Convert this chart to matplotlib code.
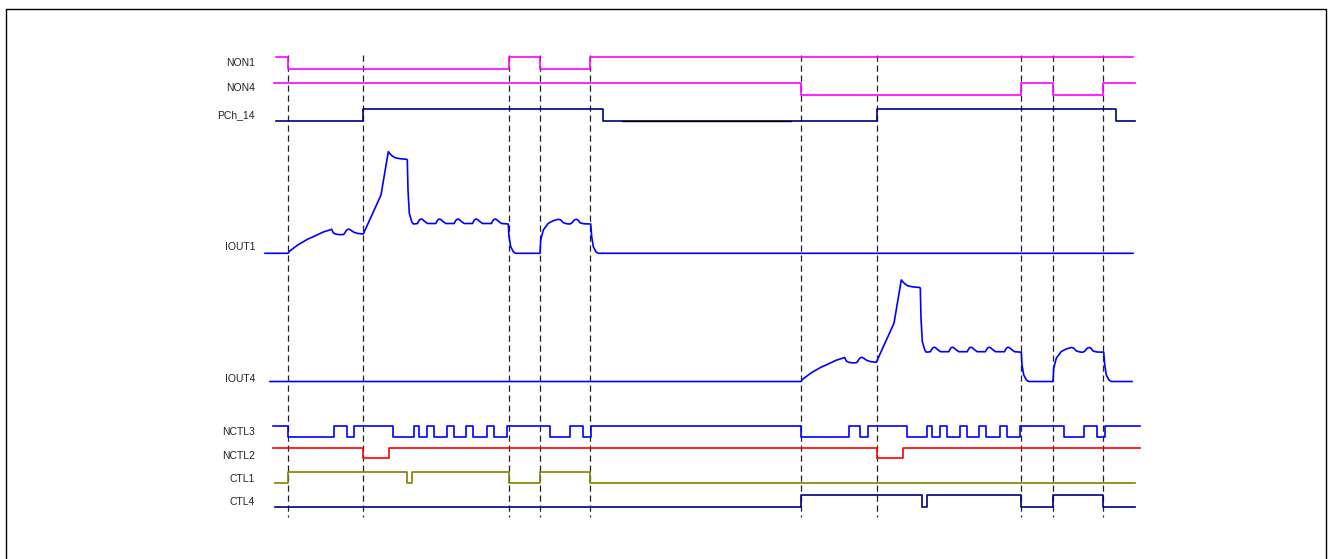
import numpy as np
import matplotlib
matplotlib.use("Agg")
import matplotlib.pyplot as plt

plt.rcParams['font.family'] = ['Liberation Sans', 'DejaVu Sans']

# marker times (dashed lines), in screen units
events = [288, 363, 509, 540, 590, 801, 877, 1021, 1053, 1103]

# channel labels and where they sit
labels = ["NON1", "NON4", "PCh_14", "IOUT1", "IOUT4", "NCTL3", "NCTL2", "CTL1", "CTL4"]
label_y = [63, 88, 115, 247, 379, 432, 456, 479, 502]

# digital channels: edge times + state of each segment (1 = high)
non1_t = [276, 288, 509, 540, 590, 1133]
non1_s = [1, 0, 1, 0, 1]
non4_t = [274, 801, 1021, 1053, 1103, 1135]
non4_s = [1, 0, 1, 0, 1]
pch14_t = [276, 363, 603, 877, 1116, 1135]
pch14_s = [0, 1, 0, 1, 0]
nctl3_t = [273, 288, 334, 347, 354, 393, 414, 419, 427, 434, 447, 454, 466, 473,
           487, 494, 507, 550, 570, 583, 591, 801, 849, 860, 868, 907, 927, 932,
           940, 947, 960, 967, 979, 986, 1000, 1007, 1020, 1064, 1084, 1097, 1105, 1140]
nctl3_s = [1, 0, 1, 0, 1, 0, 1, 0, 1, 0, 1, 0, 1, 0, 1, 0, 1, 0, 1, 0,
           1, 0, 1, 0, 1, 0, 1, 0, 1, 0, 1, 0, 1, 0, 1, 0, 1, 0, 1, 0, 1]
nctl2_t = [273, 363, 389, 877, 903, 1140]
nctl2_s = [1, 0, 1, 0, 1]
ctl1_t = [275, 288, 407, 412, 509, 540, 590, 1135]
ctl1_s = [0, 1, 0, 1, 0, 1, 0]
ctl4_t = [275, 801, 922, 927, 1021, 1053, 1103, 1135]
ctl4_s = [0, 1, 0, 1, 0, 1, 0]

# current pulse shape: time after onset, height above baseline
pulse_dt = [0, 2, 5.3, 10, 15.3, 20, 25.3, 30, 35.3, 40, 43.7,
            45.3, 47.5, 52, 55.5, 57, 58, 59.5, 61, 63, 66, 70, 75.3,
            93, 100.3, 102, 104, 107, 112, 118.7, 119.3, 120, 121.3, 123.7, 125.3,
            129.5, 130.5, 131.5, 133, 134.5, 136.5, 139.5,
            147.8, 148.8, 149.8, 151.3, 152.8, 154.8, 157.8,
            166.2, 167.2, 168.2, 169.7, 171.2, 173.2, 176.2,
            184.5, 185.5, 186.5, 188, 189.5, 191.5, 194.5,
            203.5, 204.5, 205.5, 207, 208.5, 210.5, 213.5,
            220.3, 221, 222.7, 225.3, 227.7, 252,
            252.7, 255.3, 260.3, 265.3, 270.3, 272.5, 275.3, 279, 282,
            284, 285.5, 287, 288.7, 290.3, 292, 296, 302.7,
            303.7, 305.3, 308, 310.3]
pulse_h = [0, 2.5, 5, 8.5, 11.6, 14.3, 16.6, 18.8, 21.3, 22.8, 24,
           20.5, 19.2, 18.6, 18.8, 20.5, 22.5, 23.8, 24.2, 23, 21, 19.8, 19.3,
           58.3, 101.6, 99.5, 97.5, 95.6, 94.6, 94, 93.3, 63.3, 40, 31.6, 29.3,
           29.8, 31.8, 33.4, 34.3, 33.8, 32, 29.8,
           29.8, 31.8, 33.4, 34.3, 33.8, 32, 29.8,
           29.8, 31.8, 33.4, 34.3, 33.8, 32, 29.8,
           29.8, 31.8, 33.4, 34.3, 33.8, 32, 29.8,
           29.8, 31.8, 33.4, 34.3, 33.8, 32, 29.8,
           29.3, 16.6, 6.6, 1.6, 0, 0,
           13.3, 23.3, 30, 32.6, 34, 33.5, 30.6, 29.5, 29.3,
           30.5, 32.5, 33.7, 34, 33, 30.5, 29.5, 29.3,
           16.6, 6.6, 1.4, 0]
iout1_onset, iout1_span = 288, (265, 1133)
iout4_onset, iout4_span = 801, (270, 1132)

levels = {  # (high, low) screen y
    "NON1": (56.5, 68.5), "NON4": (82.5, 94.5), "PCh_14": (108.5, 120.5),
    "NCTL3": (425.5, 436.5), "NCTL2": (447.5, 457.5),
    "CTL1": (471.5, 482.5), "CTL4": (495, 506.5),
}
iout1_base = 253.3
iout4_base = 381.5


def digital(ax, t, s, name, color):
    hi, lo = levels[name]
    ys = [hi if v else lo for v in s]
    ys = ys + [ys[-1]]
    ax.step(t, ys, where="post", color=color, lw=1.2)


def analog(ax, onset, span, base, color):
    xs = [span[0]] + [onset + d for d in pulse_dt] + [span[1]]
    ys = [base] + [base - h for h in pulse_h] + [base]
    ax.plot(xs, ys, color=color, lw=1.2)


fig = plt.figure(figsize=(13.30, 5.59), dpi=100)
ax = fig.add_axes([0, 0, 1, 1])
ax.set_xlim(0, 1330)
ax.set_ylim(559, 0)
ax.axis("off")

# frame
ax.plot([5.5, 5.5, 1326, 1326], [560, 8.5, 8.5, 560], color="k", lw=1.0)

ax.vlines(events, 55, 517, colors="#222222", linestyles=(0, (5, 3)), lw=0.9)

digital(ax, non1_t, non1_s, "NON1", "#ff00ff")
digital(ax, non4_t, non4_s, "NON4", "#ff00ff")
digital(ax, pch14_t, pch14_s, "PCh_14", "#000080")
ax.plot([622, 791], [levels["PCh_14"][1]] * 2, color="k", lw=1.0)
analog(ax, iout1_onset, iout1_span, iout1_base, "#0000ff")
analog(ax, iout4_onset, iout4_span, iout4_base, "#0000ff")
digital(ax, nctl3_t, nctl3_s, "NCTL3", "#0000ff")
digital(ax, nctl2_t, nctl2_s, "NCTL2", "#ff0000")
digital(ax, ctl1_t, ctl1_s, "CTL1", "#808000")
digital(ax, ctl4_t, ctl4_s, "CTL4", "#000080")

for lab, y in zip(labels, label_y):
    ax.text(255, y, lab, ha="right", va="center", fontsize=7.5, color="#222222")

fig.savefig("out.png", dpi=100)
